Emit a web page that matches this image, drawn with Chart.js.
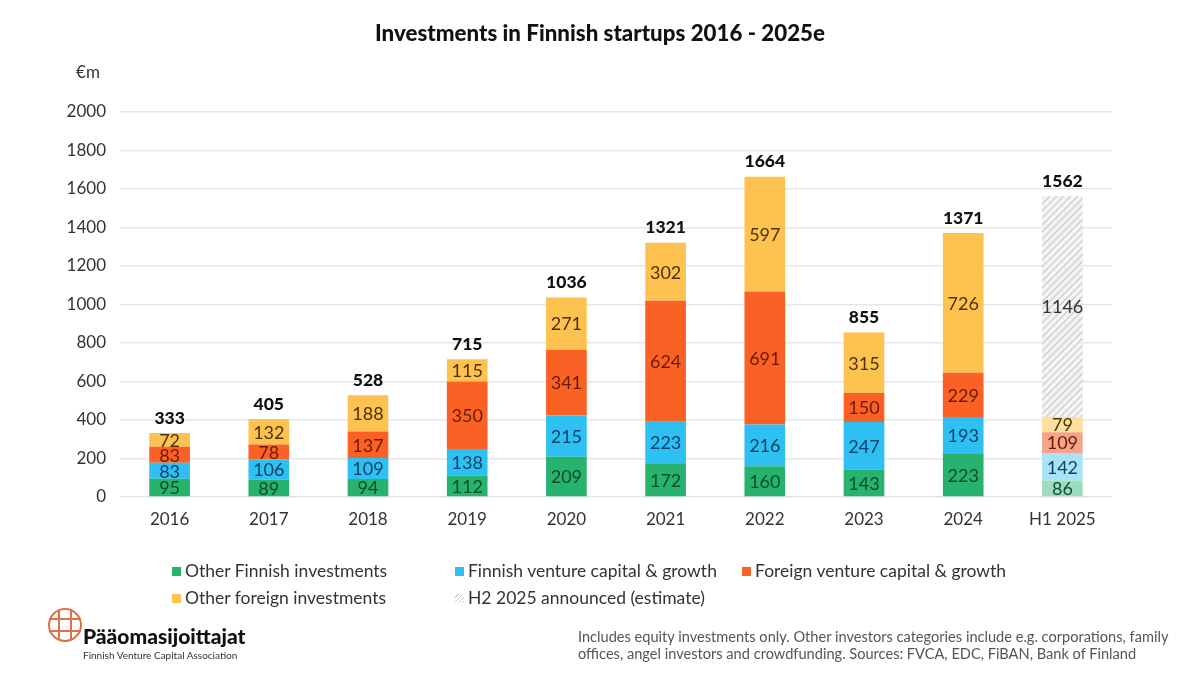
<!DOCTYPE html>
<html>
<head>
<meta charset="utf-8">
<script src="https://cdn.jsdelivr.net/npm/chart.js@4"></script>
<style>
  body { margin:0; background:#fff; font-family:"Lato", sans-serif; }
  #wrap { position:relative; width:1200px; height:675px; }
  #chart { position:absolute; left:0; top:0; }
  .title { position:absolute; top:19px; left:0; width:1200px; text-align:center; font-weight:900; font-size:22.3px; color:#111; }
  .leg { position:absolute; font-size:17.5px; color:#333; white-space:nowrap; line-height:20px; }
  .leg i { display:inline-block; width:9px; height:9px; margin-right:4px; vertical-align:1px; }
  .logo { position:absolute; left:46px; top:604px; }
  .brand { position:absolute; left:83px; top:623px; font-weight:900; font-size:21px; color:#111; }
  .brandsub { position:absolute; left:83px; top:649px; font-size:10px; color:#333; }
  .note { position:absolute; left:578px; top:628px; font-size:14.6px; color:#555; line-height:17px; white-space:nowrap; }
</style>
</head>
<body>
<div id="wrap">
  <canvas id="chart" width="1200" height="675"></canvas>
  <div class="title">Investments in Finnish startups 2016 - 2025e</div>
  <div id="legend"></div>
  <svg class="logo" width="40" height="44" viewBox="0 0 40 44">
    <circle cx="19" cy="21" r="16" fill="none" stroke="#e0704a" stroke-width="2"/>
    <line x1="13" y1="6" x2="13" y2="36" stroke="#e0704a" stroke-width="2"/>
    <line x1="25" y1="6" x2="25" y2="36" stroke="#e0704a" stroke-width="2"/>
    <line x1="3" y1="15" x2="35" y2="15" stroke="#e0704a" stroke-width="2"/>
    <line x1="3" y1="27" x2="35" y2="27" stroke="#e0704a" stroke-width="2"/>
  </svg>
  <div class="brand">Pääomasijoittajat</div>
  <div class="brandsub">Finnish Venture Capital Association</div>
  <div class="note">Includes equity investments only. Other investors categories include e.g. corporations, family<br>offices, angel investors and crowdfunding. Sources: FVCA, EDC, FiBAN, Bank of Finland</div>
</div>
<script>
// categories on the x axis
var years = ["2016","2017","2018","2019","2020","2021","2022","2023","2024","H1 2025"];
// €m per category
var otherFinnish = [95,89,94,112,209,172,160,143,223,86];
var finnishVC = [83,106,109,138,215,223,216,247,193,142];
var foreignVC = [83,78,137,350,341,624,691,150,229,109];
var otherForeign = [72,132,188,115,271,302,597,315,726,79];
// H2 2025 estimate only exists for the last bar
var h2Estimate = [null,null,null,null,null,null,null,null,null,1146];
// totals printed above each bar
var totals = [333,405,528,715,1036,1321,1664,855,1371,1562];
var yTicks = [0,200,400,600,800,1000,1200,1400,1600,1800,2000];

var legendNames = ["Other Finnish investments","Finnish venture capital & growth","Foreign venture capital & growth","Other foreign investments","H2 2025 announced (estimate)"];

// last bar is drawn in paler colours
function cols(full, pale) {
	var c = [];
	for (var i = 0; i < years.length; i++) c.push(i == years.length - 1 ? pale : full);
	return c;
}

// hatch for the estimate
function hatch() {
	var p = document.createElement('canvas');
	p.width = 7; p.height = 7;
	var g = p.getContext('2d');
	g.fillStyle = "#f4f4f4";
	g.fillRect(0, 0, 7, 7);
	g.strokeStyle = "#cdcdcd";
	g.lineWidth = 1.3;
	g.beginPath();
	g.moveTo(-1, 8); g.lineTo(8, -1);
	g.moveTo(-1, 1); g.lineTo(1, -1);
	g.moveTo(6, 8); g.lineTo(8, 6);
	g.stroke();
	return g.createPattern(p, 'repeat');
}

var labelColors = ["#0d4d2e","#0c4468","#6b1a06","#4d3300","#333333"];

var valueLabels = {
	id: 'valueLabels',
	afterDatasetsDraw: function(chart) {
		var ctx = chart.ctx;
		ctx.save();
		ctx.textAlign = 'center';
		ctx.textBaseline = 'middle';
		ctx.font = '18px Lato';
		chart.data.datasets.forEach(function(ds, di) {
			var meta = chart.getDatasetMeta(di);
			meta.data.forEach(function(bar, i) {
				var v = ds.data[i];
				if (v == null) return;
				ctx.fillStyle = labelColors[di];
				ctx.fillText(v, bar.x, (bar.y + bar.base) / 2 + 1);
			});
		});
		// totals
		ctx.font = '900 17.5px Lato';
		ctx.fillStyle = '#111';
		var y = chart.scales.y;
		var x = chart.scales.x;
		for (var i = 0; i < totals.length; i++) {
			ctx.fillText(totals[i], x.getPixelForValue(i), y.getPixelForValue(totals[i]) - 15);
		}
		ctx.font = '17px Lato';
		ctx.fillStyle = '#333';
		ctx.fillText('€m', 88, 73);
		ctx.restore();
	}
};

var config = {
	type: 'bar',
	data: {
		labels: years,
		datasets: [
			{ label: legendNames[0], data: otherFinnish, backgroundColor: cols("#27b36d", "#9edcc0") },
			{ label: legendNames[1], data: finnishVC, backgroundColor: cols("#2ebff3", "#a8e3f8") },
			{ label: legendNames[2], data: foreignVC, backgroundColor: cols("#fb6124", "#f6a487") },
			{ label: legendNames[3], data: otherForeign, backgroundColor: cols("#fdc250", "#fde0a0") },
			{ label: legendNames[4], data: h2Estimate, backgroundColor: hatch() }
		]
	},
	options: {
		responsive: false,
		animation: false,
		layout: { padding: { top: 112, right: 88, left: 0, bottom: 0 } },
		datasets: { bar: { categoryPercentage: 1, barPercentage: 0.41, borderWidth: 0 } },
		plugins: { legend: { display: false }, title: { display: false }, tooltip: { enabled: false } },
		scales: {
			x: {
				stacked: true,
				grid: { display: false, drawTicks: false },
				border: { display: false },
				ticks: { padding: 12, color: '#333', font: { family: 'Lato', size: 17 } },
				afterFit: function(s) { s.height = 178; }
			},
			y: {
				stacked: true,
				min: 0, max: 2000,
				afterBuildTicks: function(s) { s.ticks = yTicks.map(function(v) { return { value: v }; }); },
				grid: { color: '#e6e6e6', drawTicks: false, lineWidth: 1.5 },
				border: { display: false },
				ticks: { padding: 14, color: '#333', font: { family: 'Lato', size: 17 }, callback: function(v) { return String(v); } },
				afterFit: function(s) { s.width = 120; }
			}
		}
	},
	plugins: [valueLabels]
};

// legend laid out in three columns like the original
var legPos = [[172,561],[455,561],[742,561],[172,588],[455,588]];
var legHtml = '';
for (var i = 0; i < legendNames.length; i++) {
	var sw = i == 4 ? '<i style="background:repeating-linear-gradient(135deg,#fff 0 2px,#ccc 2px 3px)"></i>'
		: '<i style="background:' + ["#27b36d","#2ebff3","#fb6124","#fdc250"][i] + '"></i>';
	legHtml += '<div class="leg" style="left:' + legPos[i][0] + 'px;top:' + legPos[i][1] + 'px">' + sw + legendNames[i] + '</div>';
}
document.getElementById('legend').innerHTML = legHtml;

var ctx = document.getElementById('chart').getContext('2d');
window.myBar = new Chart(ctx, config);
</script>
</body>
</html>
